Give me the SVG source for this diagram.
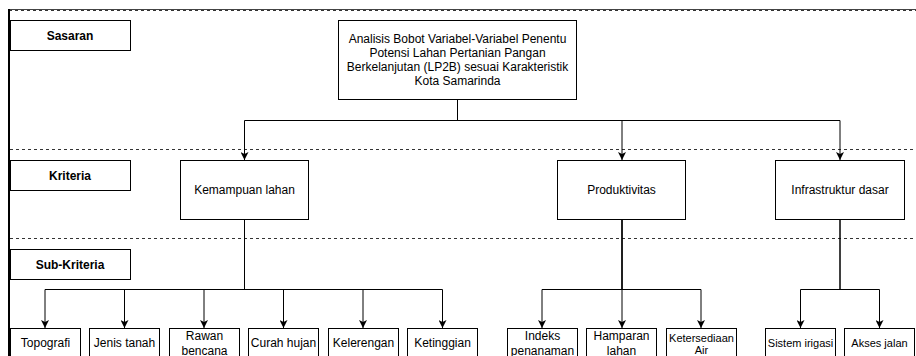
<svg xmlns="http://www.w3.org/2000/svg" width="916" height="356" viewBox="0 0 916 356">
<defs>
<style>
.box{fill:#fff;stroke:#000;stroke-width:1}
.t{font-family:"Liberation Sans",Arial,sans-serif;font-size:12px;fill:#000;text-anchor:middle;dominant-baseline:central}
.b{font-weight:bold}
.s{font-size:11px}
.edge{fill:none;stroke:#000;stroke-width:1}
.dash{stroke:#333;stroke-width:1;stroke-dasharray:3 3}
</style>
<marker id="arr" viewBox="0 0 10 10" refX="10" refY="5" markerWidth="8" markerHeight="8" markerUnits="userSpaceOnUse" orient="auto">
<path d="M0,0 L10,5 L0,10 L2.5,5 Z" fill="#000"/>
</marker>
</defs>
<rect width="916" height="356" fill="#fff"/>
<g id="frame">
<line x1="9" y1="9.5" x2="916" y2="9.5" stroke="#444" stroke-width="1"/>
<line x1="9" y1="10.5" x2="916" y2="10.5" class="dash" stroke="#000"/>
<line x1="9" y1="9" x2="9" y2="356" stroke="#000" stroke-width="2"/>
<line x1="10" y1="149.5" x2="916" y2="149.5" class="dash"/>
<line x1="10" y1="238.5" x2="916" y2="238.5" class="dash"/>
</g>
<g id="lane-sasaran"><rect class="box" x="10.5" y="20.5" width="120" height="30"/><text class="t b" x="70" y="35.5">Sasaran</text></g>
<g id="lane-kriteria"><rect class="box" x="10.5" y="160.5" width="120" height="30"/><text class="t b" x="70" y="175.5">Kriteria</text></g>
<g id="lane-subkriteria"><rect class="box" x="10.5" y="249.5" width="120" height="30"/><text class="t b" x="70" y="264.5">Sub-Kriteria</text></g>

<g id="connectors">
<path class="edge" d="M457.5,100 V120.5 H244.5 V160" marker-end="url(#arr)"/>
<path class="edge" d="M457.5,100 V120.5 H622 V160" marker-end="url(#arr)"/>
<path class="edge" d="M457.5,100 V120.5 H840 V160" marker-end="url(#arr)"/>
<path class="edge" d="M244.5,219 V289.5 H45 V328" marker-end="url(#arr)"/>
<path class="edge" d="M244.5,219 V289.5 H124.5 V328" marker-end="url(#arr)"/>
<path class="edge" d="M244.5,219 V289.5 H204 V328" marker-end="url(#arr)"/>
<path class="edge" d="M244.5,219 V289.5 H283.5 V328" marker-end="url(#arr)"/>
<path class="edge" d="M244.5,219 V289.5 H363 V328" marker-end="url(#arr)"/>
<path class="edge" d="M244.5,219 V289.5 H442.5 V328" marker-end="url(#arr)"/>
<path class="edge" d="M622,219 V289.5 H542 V328" marker-end="url(#arr)"/>
<path class="edge" d="M622,219 V328" marker-end="url(#arr)"/>
<path class="edge" d="M622,219 V289.5 H701 V328" marker-end="url(#arr)"/>
<path class="edge" d="M840,219 V289.5 H800.5 V328" marker-end="url(#arr)"/>
<path class="edge" d="M840,219 V289.5 H879.5 V328" marker-end="url(#arr)"/>
</g>

<g id="n-goal"><rect class="box" x="338.5" y="20.5" width="238" height="79"/>
<text class="t" x="457.5"><tspan x="457.5" y="38.5">Analisis Bobot Variabel-Variabel Penentu</tspan><tspan x="457.5" y="52.8">Potensi Lahan Pertanian Pangan</tspan><tspan x="457.5" y="67.1">Berkelanjutan (LP2B) sesuai Karakteristik</tspan><tspan x="457.5" y="81.4">Kota Samarinda</tspan></text></g>

<g id="n-kemampuan"><rect class="box" x="180.5" y="160.5" width="128" height="59"/><text class="t" x="244.5" y="189.5">Kemampuan lahan</text></g>
<g id="n-produktivitas"><rect class="box" x="557.5" y="160.5" width="128" height="59"/><text class="t" x="621.5" y="189.5">Produktivitas</text></g>
<g id="n-infrastruktur"><rect class="box" x="775.5" y="160.5" width="129" height="59"/><text class="t" x="840" y="189.5">Infrastruktur dasar</text></g>

<g id="n-topografi"><rect class="box" x="10.5" y="328.5" width="70" height="30"/><text class="t" x="45.5" y="343">Topografi</text></g>
<g id="n-jenis"><rect class="box" x="89.5" y="328.5" width="70" height="30"/><text class="t" x="124.5" y="343">Jenis tanah</text></g>
<g id="n-rawan"><rect class="box" x="169.5" y="328.5" width="70" height="30"/><text class="t" x="204.5"><tspan x="204.5" y="336">Rawan</tspan><tspan x="204.5" y="350.5">bencana</tspan></text></g>
<g id="n-curah"><rect class="box" x="248.5" y="328.5" width="70" height="30"/><text class="t" x="283.5" y="343">Curah hujan</text></g>
<g id="n-kelerengan"><rect class="box" x="328.5" y="328.5" width="70" height="30"/><text class="t" x="363.5" y="343">Kelerengan</text></g>
<g id="n-ketinggian"><rect class="box" x="407.5" y="328.5" width="70" height="30"/><text class="t" x="442.5" y="343">Ketinggian</text></g>

<g id="n-indeks"><rect class="box" x="507.5" y="328.5" width="70" height="30"/><text class="t" x="542.5"><tspan x="542.5" y="336">Indeks</tspan><tspan x="542.5" y="350.5">penanaman</tspan></text></g>
<g id="n-hamparan"><rect class="box" x="586.5" y="328.5" width="70" height="30"/><text class="t" x="621.5"><tspan x="621.5" y="336">Hamparan</tspan><tspan x="621.5" y="350.5">lahan</tspan></text></g>
<g id="n-ketersediaan"><rect class="box" x="666.5" y="328.5" width="70" height="30"/><text class="t s" x="701.5"><tspan x="701.5" y="338">Ketersediaan</tspan><tspan x="701.5" y="350">Air</tspan></text></g>

<g id="n-irigasi"><rect class="box" x="765.5" y="328.5" width="70" height="30"/><text class="t s" x="800.5" y="343">Sistem irigasi</text></g>
<g id="n-akses"><rect class="box" x="844.5" y="328.5" width="70" height="30"/><text class="t s" x="879.5" y="343">Akses jalan</text></g>
</svg>
